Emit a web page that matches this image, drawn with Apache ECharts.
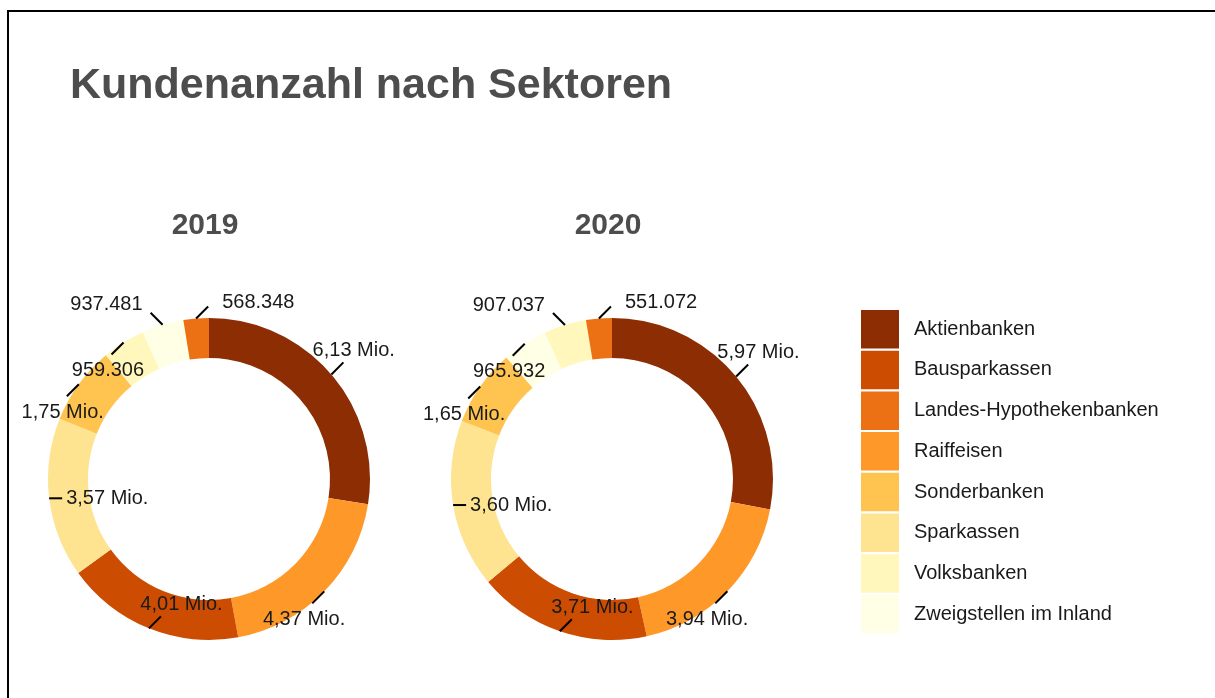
<!DOCTYPE html>
<html>
<head>
<meta charset="utf-8">
<script src="https://cdn.jsdelivr.net/npm/echarts@6/dist/echarts.min.js"></script>
<style>
	html, body { margin: 0; padding: 0; background: #fff; }
	#chart { width: 1215px; height: 698px; }
	#frame { position: absolute; left: 7px; top: 10px; right: 0; bottom: 0;
		border-left: 2px solid #000; border-top: 2px solid #000; pointer-events: none; }
</style>
</head>
<body>
<div id="chart"></div>
<div id="frame"></div>
<script>
// Sektoren (Reihenfolge der Legende)
var sectors = ['Aktienbanken', 'Bausparkassen', 'Landes-Hypothekenbanken', 'Raiffeisen',
	'Sonderbanken', 'Sparkassen', 'Volksbanken', 'Zweigstellen im Inland'];
var colors = ['#8C2D04', '#CC4C02', '#EC7014', '#FE9929', '#FEC44F', '#FEE391', '#FFF7BC', '#FFFFE5'];
var years = ['2019', '2020'];
// Kundenanzahl je Sektor
var values2019 = [6130000, 4010000, 568348, 4370000, 1750000, 3570000, 959306, 937481];
var values2020 = [5970000, 3710000, 551072, 3940000, 1650000, 3600000, 907037, 965932];

var centers = [[209, 479], [612, 479]];
var rOut = 161, rIn = 121;
var lineLen = 17;

var measureCtx = document.createElement('canvas').getContext('2d');
measureCtx.font = '20px "Liberation Sans"';

function fmt(v) {
	if (v >= 1000000) {
		return (v / 1000000).toFixed(2).replace('.', ',') + ' Mio.';
	}
	return String(v).replace(/\B(?=(\d{3})+(?!\d))/g, '.');
}

function pieData(values, visible) {
	var d = [];
	for (var i = 0; i < sectors.length; i++) {
		d.push({ name: sectors[i], value: values[i],
			itemStyle: { color: visible ? colors[i] : 'rgba(0,0,0,0)' } });
	}
	// im Uhrzeigersinn absteigend sortiert
	d.sort(function(a, b) { return b.value - a.value; });
	return d;
}

// Richtung der Hinweislinie je nach Lage des Segments (Winkel ab 12 Uhr, im Uhrzeigersinn)
function guideDir(ang) {
	if (ang < 90) return { dir: 45, k: 0.25 };
	if (ang < 180) return { dir: 225, k: 0.2 };
	if (ang < 240) return { dir: 45, k: 0.5 };
	if (ang < 290) return { dir: 90, k: 0 };
	if (ang < 335) return { dir: 225, k: 0.1 };
	if (ang < 350) return { dir: 315, k: 0, side: 'left' };
	return { dir: 45, k: 0, side: 'right' };
}

function placeLabel(params) {
	var c = centers[params.seriesIndex % 2];
	var q = params.labelLinePoints[0];
	var ang = Math.atan2(q[0] - c[0], -(q[1] - c[1])) * 180 / Math.PI;
	if (ang < 0) ang += 360;
	var a = ang * Math.PI / 180;
	var p0 = [c[0] + Math.sin(a) * rOut, c[1] - Math.cos(a) * rOut];
	var g = guideDir(ang);
	var b = g.dir * Math.PI / 180;
	var dx = Math.sin(b), dy = -Math.cos(b);
	var len = g.dir === 90 ? 13 : lineLen;
	var end = [p0[0] + dx * len, p0[1] + dy * len];
	var w = measureCtx.measureText(params.text).width;
	var h = 20;
	var pts = [p0, end, end];
	if (g.side === 'left') {
		return { x: end[0] - 8, y: end[1] - 8, align: 'right', verticalAlign: 'middle', labelLinePoints: pts };
	}
	if (g.side === 'right') {
		return { x: end[0] + 14, y: end[1] - 4, align: 'left', verticalAlign: 'middle', labelLinePoints: pts };
	}
	var cx, cy;
	if (g.dir === 90) {
		cx = end[0] + 4 + w / 2;
		cy = end[1];
	} else {
		cx = end[0] + (dx > 0 ? 1 : -1) * w / 2 * g.k;
		cy = end[1] + (dy > 0 ? h / 2 + 6 : -(h / 2 + 2));
	}
	return { x: cx, y: cy, align: 'center', verticalAlign: 'middle', labelLinePoints: pts };
}

// Ringe
function ringSeries(values, idx) {
	return {
		type: 'pie',
		center: centers[idx],
		radius: [rIn, rOut],
		startAngle: 90,
		clockwise: true,
		sort: 'none',
		z: 2,
		emphasis: { disabled: true },
		itemStyle: { borderWidth: 0 },
		label: { show: false },
		labelLine: { show: false },
		data: pieData(values, true)
	};
}

// Beschriftungen mit Hinweislinien ueber den Ringen
function labelSeries(values, idx) {
	return {
		type: 'pie',
		center: centers[idx],
		radius: [rIn, rOut],
		startAngle: 90,
		clockwise: true,
		sort: 'none',
		z: 3,
		silent: true,
		avoidLabelOverlap: false,
		emphasis: { disabled: true },
		itemStyle: { borderWidth: 0 },
		label: {
			show: true,
			position: 'outside',
			color: '#1a1a1a',
			fontSize: 20,
			fontFamily: 'Liberation Sans',
			overflow: 'none',
			formatter: function(p) { return fmt(p.value); }
		},
		labelLine: {
			show: true,
			length: lineLen,
			length2: 0,
			lineStyle: { color: '#000', width: 2 }
		},
		labelLayout: placeLabel,
		data: pieData(values, false)
	};
}

var myChart = echarts.init(document.getElementById('chart'));
var option = {
	backgroundColor: '#fff',
	animation: false,
	title: [{
		text: 'Kundenanzahl nach Sektoren',
		left: 65,
		top: 60,
		textStyle: { fontFamily: 'Liberation Sans', fontSize: 43, fontWeight: 'bold', color: '#4d4d4d' }
	}, {
		text: years[0],
		left: 200,
		top: 206,
		textAlign: 'center',
		textStyle: { fontFamily: 'Liberation Sans', fontSize: 30, fontWeight: 'bold', color: '#4d4d4d' }
	}, {
		text: years[1],
		left: 603,
		top: 206,
		textAlign: 'center',
		textStyle: { fontFamily: 'Liberation Sans', fontSize: 30, fontWeight: 'bold', color: '#4d4d4d' }
	}],
	legend: {
		orient: 'vertical',
		left: 861,
		top: 310,
		padding: 0,
		icon: 'rect',
		itemWidth: 38,
		itemHeight: 38.5,
		itemGap: 2.2,
		selectedMode: false,
		data: sectors,
		textStyle: { fontFamily: 'Liberation Sans', fontSize: 20, color: '#1a1a1a', padding: [0, 0, 0, 10] }
	},
	series: [ringSeries(values2019, 0), ringSeries(values2020, 1),
		labelSeries(values2019, 0), labelSeries(values2020, 1)]
};
myChart.setOption(option);
</script>
</body>
</html>
